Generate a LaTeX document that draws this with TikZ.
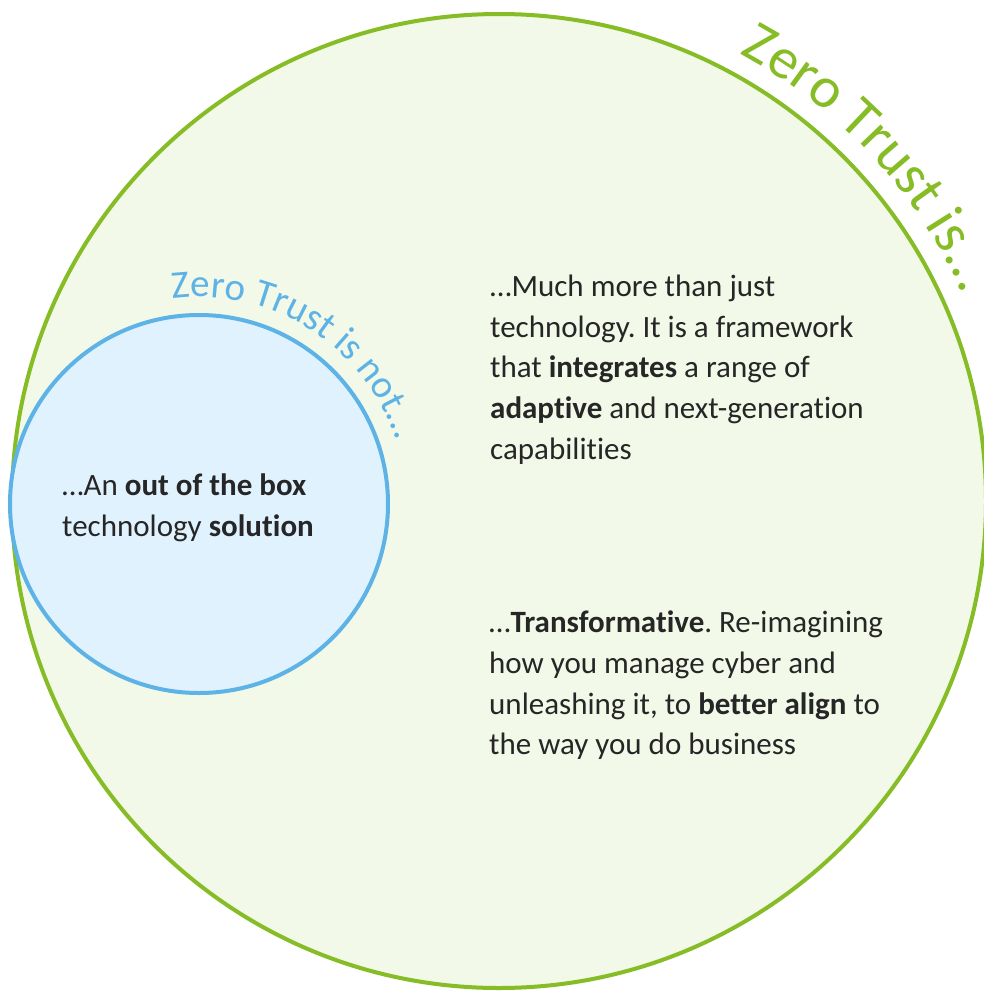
\documentclass[tikz,border=0pt]{standalone}
\usepackage{fontspec}
\setmainfont{Carlito}[Ligatures=NoCommon]
\usetikzlibrary{decorations.text}
\definecolor{ztgreen}{RGB}{134,188,37}
\definecolor{ztgreenfill}{RGB}{242,249,232}
\definecolor{ztblue}{RGB}{93,178,230}
\definecolor{ztbluefill}{RGB}{225,242,255}
\definecolor{ztext}{RGB}{38,38,38}
\newcommand{\bigarcfont}{\fontsize{58}{60}\selectfont}
\newcommand{\smallarcfont}{\fontsize{39}{42}\selectfont}
\frenchspacing
\begin{document}
\begin{tikzpicture}[x=1pt,y=-1pt,
    body/.style={inner sep=0pt,anchor=north west,align=left,text=ztext,font=\fontsize{31}{40.6}\selectfont},
    arctext/.style={decorate,decoration={text along path,text align=left,text color=#1}}]
    \useasboundingbox (0,0) rectangle (983,991);
    \draw[ztgreen,line width=4pt,fill=ztgreenfill](499,501)circle[radius=487];
    \draw[ztblue,line width=4pt,fill=ztbluefill](199,504)circle[radius=189];
    \path[arctext=ztgreen,decoration={text={|\bigarcfont|Zero Trust is...}}]
        (499,501)++(-61.7:508)arc[start angle=-61.7,end angle=-5,radius=508];
    \path[arctext=ztblue,decoration={text={|\smallarcfont|Zero Trust is not...}}]
        (199,504)++(-97.3:207)arc[start angle=-97.3,end angle=0,radius=207];
    \node[body](outbox)at(62,474){…An \textbf{out of the box}\\technology \textbf{solution}};
    \node[body](much)at(490,275){…Much more than just\\technology. It is a framework\\that \textbf{integrates} a range of\\\textbf{adaptive} and next-generation\\capabilities};
    \node[body](transf)at(489,611){…\textbf{Transformative}. Re-imagining\\how you manage cyber and\\unleashing it, to \textbf{better align} to\\the way you do business};
\end{tikzpicture}
\end{document}
